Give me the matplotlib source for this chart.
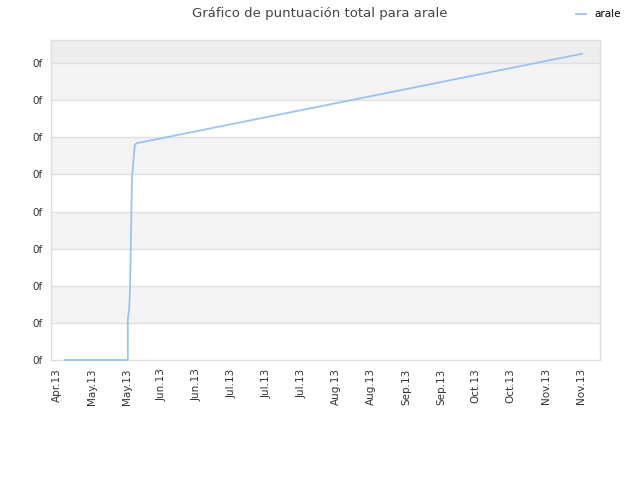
import matplotlib
matplotlib.use("Agg")
import matplotlib.pyplot as plt

# data (x in days since first tick, y in score units)
days = [3.2, 28.4, 28.4, 28.9, 29.3, 30.1, 30.6, 31.2, 32.0, 210.6]
score = [0.0, 0.0, 1.08, 1.35, 1.89, 4.94, 5.31, 5.80, 5.84, 8.25]
tick_days = [14 * i for i in range(16)]
tick_labels = ["Apr.13", "May.13", "May.13", "Jun.13", "Jun.13", "Jul.13", "Jul.13", "Jul.13",
               "Aug.13", "Aug.13", "Sep.13", "Sep.13", "Oct.13", "Oct.13", "Nov.13", "Nov.13"]
y_ticks = [0, 1, 2, 3, 4, 5, 6, 7, 8]
y_labels = ["0f"] * 9
series_name = "arale"
title = "Gráfico de puntuación total para arale"

fig = plt.figure(figsize=(6.4, 4.8), dpi=100)
ax = fig.add_axes([51 / 640, 120 / 480, 549 / 640, 320 / 480])
ymax = 8 + 23 / 37.1
ax.set_xlim(-2.4, 217.8)
ax.set_ylim(0, ymax)

# alternating bands
for i in range(0, 8):
    if i % 2 == 1:
        ax.axhspan(i, i + 1, color="#f3f3f3", zorder=0, lw=0)
ax.axhspan(8, ymax, color="#ededed", zorder=0, lw=0)
for yv in y_ticks[1:]:
    ax.axhline(yv, color="#e0e0e0", lw=1, zorder=1)

ax.plot(days, score, color="#99c4f2", lw=1.3, zorder=3, label=series_name, clip_on=False)

ax.set_xticks(tick_days)
ax.set_xticklabels(tick_labels, rotation=90, fontsize=7.5, color="#333333")
ax.set_yticks(y_ticks)
ax.set_yticklabels(y_labels, fontsize=7.5, color="#333333")
ax.tick_params(length=0, pad=6)
for s in ax.spines.values():
    s.set_color("#dddddd")
    s.set_linewidth(1)
    s.set_zorder(2)

fig.text(0.5, 1 - 13 / 480, title, ha="center", va="center", fontsize=9.5, color="#444444")
fig.legend(loc="upper right", bbox_to_anchor=(0.985, 1.0), frameon=False, fontsize=7.5,
           handlelength=1.0, handletextpad=0.8)

fig.savefig("out.png", dpi=100)
